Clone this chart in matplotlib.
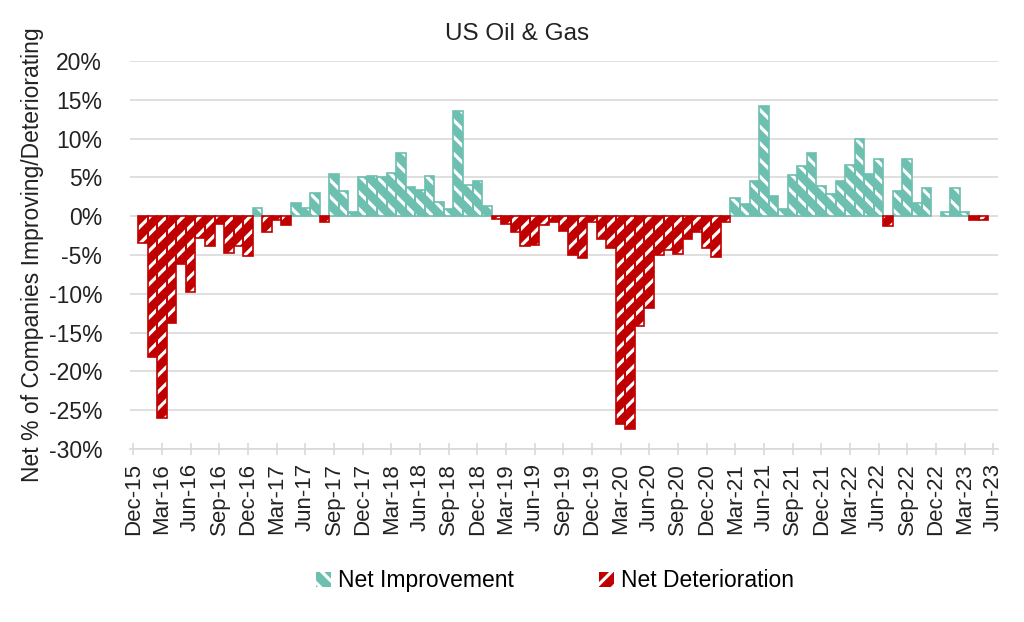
import numpy as np
import pandas as pd
import matplotlib
matplotlib.use("Agg")
import matplotlib.pyplot as plt
from matplotlib.ticker import FuncFormatter

plt.rcParams['font.family'] = ['Liberation Sans', 'DejaVu Sans']
plt.rcParams['hatch.linewidth'] = 2.3

# monthly net % of companies improving (+) / deteriorating (-), Jan-16 .. May-23
net_pct = [
    -3.4, -18.2, -26.0, -13.7, -6.1, -9.8, -2.8, -3.9, -1.0, -4.8, -3.8, -5.1,
    1.0, -2.0, -0.5, -1.1, 1.7, 1.0, 3.0, -0.8, 5.4, 3.3, 0.6, 5.0,
    5.2, 5.0, 5.6, 8.1, 3.7, 3.4, 5.2, 1.8, 0.9, 13.5, 4.0, 4.5,
    1.3, -0.4, -1.0, -2.0, -3.9, -3.7, -1.1, -0.8, -1.9, -5.0, -5.4, -0.8,
    -2.9, -4.1, -26.8, -27.4, -14.2, -11.8, -5.0, -4.4, -4.9, -2.9, -2.1, -4.1,
    -5.2, -0.7, 2.3, 1.6, 4.5, 14.2, 2.6, 0.9, 5.3, 6.5, 8.1, 3.9,
    2.8, 4.6, 6.6, 9.9, 5.4, 7.4, -1.3, 3.3, 7.4, 1.7, 3.6, 0.0,
    0.5, 3.6, 0.5, -0.5, -0.5,
]
tick_dates = pd.date_range("2015-12-01", "2023-06-01", freq="3MS")
tick_labels = [d.strftime("%b-%y") for d in tick_dates]

teal = "#6DBFB0"
red = "#C00000"

net = np.array(net_pct)
improve = np.where(net > 0, net, 0)
deteriorate = np.where(net < 0, net, 0)
x = np.arange(1, len(net) + 1)  # months after Dec-15

fig = plt.figure(figsize=(10.24, 6.22), dpi=100)
ax = fig.add_axes([130 / 1024, (622 - 449) / 622, 868 / 1024, 388 / 622])

h1 = ax.bar(x, improve, width=1.0, color=teal, edgecolor="white", hatch="\\\\", linewidth=0, zorder=2)
h2 = ax.bar(x, deteriorate, width=1.0, color=red, edgecolor="white", hatch="//", linewidth=0, zorder=2)
# outlines
ax.bar(x[net > 0], improve[net > 0], width=1.0, fill=False, edgecolor=teal, linewidth=1.2, zorder=3)
ax.bar(x[net < 0], deteriorate[net < 0], width=1.0, fill=False, edgecolor=red, linewidth=1.2, zorder=3)

ax.set_ylim(-30, 20)
ax.set_yticks(np.arange(-30, 21, 5))
ax.yaxis.set_major_formatter(FuncFormatter(lambda v, p: f"{v:.0f}%"))
ax.set_xlim(-0.35, 90.5)
ax.set_xticks(np.arange(0, 91, 3))
ax.set_xticklabels(tick_labels, rotation=90)

ax.grid(axis="y", color="#d9d9d9", linewidth=1.2, zorder=0)
ax.set_axisbelow(True)
for s in ["left", "right", "top"]:
    ax.spines[s].set_visible(False)
ax.spines["bottom"].set_color("#d9d9d9")
ax.spines["bottom"].set_linewidth(1.2)
ax.tick_params(axis="y", length=0, labelsize=16.5, pad=20, labelcolor="#222222")
ax.tick_params(axis="x", direction="inout", length=8, color="#d9d9d9", width=1.2,
               labelsize=16, pad=6, labelcolor="#222222")

ax.set_ylabel("Net % of Companies Improving/Deteriorating", fontsize=16.5, color="#222222", labelpad=3)
fig.text(0.505, 0.945, "US Oil & Gas", ha="center", va="center", fontsize=17.5, color="#222222")

fig.legend([h1, h2], ["Net Improvement", "Net Deterioration"], loc="center",
           bbox_to_anchor=(0.542, 0.066), ncol=2, frameon=False, fontsize=16.5,
           handlelength=0.65, handleheight=0.65, handletextpad=0.3, columnspacing=3.7)

fig.savefig("out.png", dpi=100)
